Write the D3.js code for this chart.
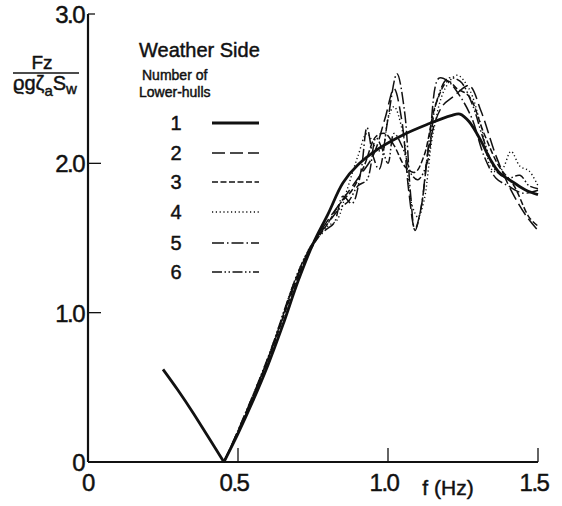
<!DOCTYPE html>
<html lang="en">
<head>
  <meta charset="UTF-8">
  <title>Weather Side vertical force</title>
  <style>
    body { margin: 0; background: #fff; }
    text { font-family: "Liberation Sans", Arial, sans-serif; fill: #111; stroke: #111; stroke-width: 0.45px; }
    .tick-label { font-size: 24px; letter-spacing: -1.5px; }
  </style>
  <script src="https://d3js.org/d3.v7.min.js"></script>
</head>
<body>
  <svg id="chart"></svg>
  <script>
    // values: [f (Hz), Fz / (rho g zeta_a S_w)]
    const hull1 = [[0.25, 0.62], [0.30, 0.48], [0.35, 0.33], [0.40, 0.17], [0.453, 0],
      [0.50, 0.19], [0.55, 0.41], [0.60, 0.65], [0.65, 0.92], [0.70, 1.21], [0.75, 1.46],
      [0.80, 1.66], [0.85, 1.87], [0.90, 1.99], [0.97, 2.10], [1.05, 2.19], [1.13, 2.26],
      [1.21, 2.32], [1.24, 2.33], [1.27, 2.28], [1.31, 2.15], [1.34, 2.03], [1.37, 1.94],
      [1.42, 1.87], [1.46, 1.82], [1.50, 1.79]];
    const hull2 = [[0.453, 0], [0.50, 0.21], [0.60, 0.69], [0.70, 1.25], [0.75, 1.46], [0.80, 1.62],
      [0.85, 1.76], [0.90, 1.90], [0.95, 2.05], [0.99, 2.30], [1.02, 2.50], [1.045, 2.30],
      [1.07, 1.80], [1.09, 1.56], [1.11, 1.70], [1.14, 2.15], [1.18, 2.38], [1.22, 2.45],
      [1.27, 2.52], [1.31, 2.35], [1.36, 2.05], [1.41, 1.82], [1.46, 1.65], [1.50, 1.55]];
    const hull3 = [[0.453, 0], [0.50, 0.20], [0.60, 0.68], [0.70, 1.24], [0.75, 1.45], [0.80, 1.60],
      [0.84, 1.73], [0.88, 1.82], [0.92, 1.98], [0.96, 2.18], [0.99, 2.20], [1.02, 2.12],
      [1.06, 1.97], [1.09, 1.94], [1.12, 2.05], [1.16, 2.40], [1.20, 2.55], [1.23, 2.50],
      [1.27, 2.45], [1.32, 2.20], [1.37, 1.98], [1.42, 1.85], [1.47, 1.64], [1.50, 1.58]];
    const hull4 = [[0.453, 0], [0.50, 0.21], [0.60, 0.70], [0.70, 1.27], [0.75, 1.47], [0.80, 1.58],
      [0.83, 1.62], [0.86, 1.80], [0.90, 2.05], [0.93, 2.20], [0.96, 2.10], [0.98, 2.08],
      [1.00, 2.30], [1.02, 2.38], [1.05, 2.20], [1.08, 1.72], [1.10, 1.64], [1.12, 1.75],
      [1.15, 2.20], [1.19, 2.50], [1.23, 2.59], [1.27, 2.50], [1.31, 2.25], [1.35, 1.95],
      [1.38, 1.96], [1.41, 2.08], [1.44, 1.98], [1.47, 1.95], [1.50, 1.85]];
    const hull5 = [[0.453, 0], [0.50, 0.20], [0.60, 0.69], [0.70, 1.26], [0.75, 1.46], [0.79, 1.55],
      [0.82, 1.60], [0.85, 1.78], [0.88, 1.73], [0.91, 1.95], [0.93, 2.24], [0.95, 2.05],
      [0.97, 1.96], [1.00, 2.30], [1.03, 2.60], [1.055, 2.35], [1.075, 1.80], [1.09, 1.55],
      [1.11, 1.70], [1.14, 2.20], [1.17, 2.57], [1.20, 2.55], [1.24, 2.45], [1.28, 2.30],
      [1.32, 2.05], [1.36, 1.90], [1.40, 1.85], [1.45, 1.80], [1.50, 1.82]];
    const hull6 = [[0.453, 0], [0.50, 0.21], [0.60, 0.70], [0.70, 1.27], [0.75, 1.47], [0.80, 1.60],
      [0.84, 1.70], [0.87, 1.75], [0.90, 1.85], [0.93, 1.89], [0.96, 2.17], [0.98, 2.10],
      [1.00, 2.00], [1.02, 2.20], [1.05, 2.10], [1.08, 1.92], [1.10, 1.89], [1.13, 2.00],
      [1.16, 2.40], [1.20, 2.57], [1.24, 2.55], [1.28, 2.40], [1.32, 2.15], [1.36, 1.95],
      [1.40, 1.90], [1.44, 1.92], [1.47, 1.85], [1.50, 1.83]];

    const hullNames = ["1", "2", "3", "4", "5", "6"];
    const hullData = [hull1, hull2, hull3, hull4, hull5, hull6];
    const xTicks = [0, 0.5, 1.0, 1.5];
    const xTickLabels = ["0", "0.5", "1.0", "1.5"];
    const yTicks = [0, 1, 2, 3];
    const yTickLabels = ["0", "1.0", "2.0", "3.0"];

    const dashes = ["none", "13,5", "6,2.5", "1.2,2.6", "12,3,1.5,3", "10,2.5,1.5,2.5,1.5,2.5"];
    const widths = [2.8, 1.5, 1.5, 1.4, 1.5, 1.5];

    const W = 562, H = 506;
    const svg = d3.select("#chart").attr("width", W).attr("height", H);

    const x = d3.scaleLinear().domain([0, 1.5]).range([88, 538]);
    const y = d3.scaleLinear().domain([0, 3]).range([462, 14]);

    // axes: plain lines with inward ticks
    svg.append("line").attr("x1", x(0)).attr("x2", x(1.5)).attr("y1", y(0)).attr("y2", y(0))
      .attr("stroke", "#111").attr("stroke-width", 2.2);
    svg.append("line").attr("x1", x(0)).attr("x2", x(0)).attr("y1", y(0)).attr("y2", y(3))
      .attr("stroke", "#111").attr("stroke-width", 2.2);

    svg.selectAll(".xt").data(xTicks.slice(1)).enter().append("line")
      .attr("x1", d => x(d)).attr("x2", d => x(d)).attr("y1", y(0)).attr("y2", y(0) - 14)
      .attr("stroke", "#111").attr("stroke-width", 1.3);
    svg.selectAll(".yt").data(yTicks.slice(1)).enter().append("line")
      .attr("x1", x(0)).attr("x2", d => x(0) + (d === 3 ? 7 : 13)).attr("y1", d => y(d)).attr("y2", d => y(d))
      .attr("stroke", "#111").attr("stroke-width", 1.3);

    svg.selectAll(".xl").data(xTicks).enter().append("text")
      .attr("class", "tick-label")
      .attr("x", (d, i) => x(d) - (i === 0 ? 0 : 4)).attr("y", 491)
      .attr("text-anchor", "middle")
      .text((d, i) => xTickLabels[i]);
    svg.selectAll(".yl").data(yTicks).enter().append("text")
      .attr("class", "tick-label")
      .attr("x", x(0) - 4).attr("y", d => y(d) + 9)
      .attr("text-anchor", "end")
      .text((d, i) => yTickLabels[i]);

    svg.append("text").attr("x", 448).attr("y", 495).attr("text-anchor", "middle")
      .style("font-size", "21px").text("f (Hz)");

    // y title as a fraction
    svg.append("text").attr("x", 42).attr("y", 69).attr("text-anchor", "middle")
      .style("font-size", "19px").text("Fz");
    svg.append("line").attr("x1", 13).attr("x2", 79).attr("y1", 73).attr("y2", 73)
      .attr("stroke", "#111").attr("stroke-width", 1.6);
    const den = svg.append("text").attr("x", 13).attr("y", 90).style("font-size", "20px");
    den.append("tspan").text("ϱgζ");
    den.append("tspan").attr("dy", 6).style("font-size", "15px").text("a");
    den.append("tspan").attr("dy", -6).text("S");
    den.append("tspan").attr("dy", 4).style("font-size", "15px").text("w");

    // curves
    const line = d3.line().x(d => x(d[0])).y(d => y(d[1])).curve(d3.curveCatmullRom.alpha(0.5));
    hullData.forEach((data, i) => {
      const k = data.findIndex(d => d[1] === 0);
      const parts = k > 0 ? [data.slice(0, k + 1), data.slice(k)] : [data];
      parts.forEach(p => {
        svg.append("path").datum(p).attr("d", line)
          .attr("fill", "none").attr("stroke", "#111")
          .attr("stroke-width", widths[i]).attr("stroke-dasharray", dashes[i])
          .attr("stroke-linejoin", "round");
      });
    });

    // legend
    svg.append("text").attr("x", 139).attr("y", 57).style("font-size", "20px").text("Weather Side");
    svg.append("text").attr("x", 142).attr("y", 80).style("font-size", "14px").text("Number of");
    svg.append("text").attr("x", 139).attr("y", 97).style("font-size", "14px").text("Lower-hulls");

    const legendY = [123, 153, 182, 212, 243, 272];
    const lg = svg.selectAll(".lg").data(hullNames).enter().append("g")
      .attr("transform", (d, i) => `translate(0, ${legendY[i]})`);
    lg.append("text").attr("x", 176).attr("y", 7).attr("text-anchor", "middle")
      .style("font-size", "20px").text(d => d);
    lg.append("line").attr("x1", 212).attr("x2", 259).attr("y1", 0).attr("y2", 0)
      .attr("stroke", "#111")
      .attr("stroke-width", (d, i) => widths[i])
      .attr("stroke-dasharray", (d, i) => dashes[i]);
  </script>
</body>
</html>
